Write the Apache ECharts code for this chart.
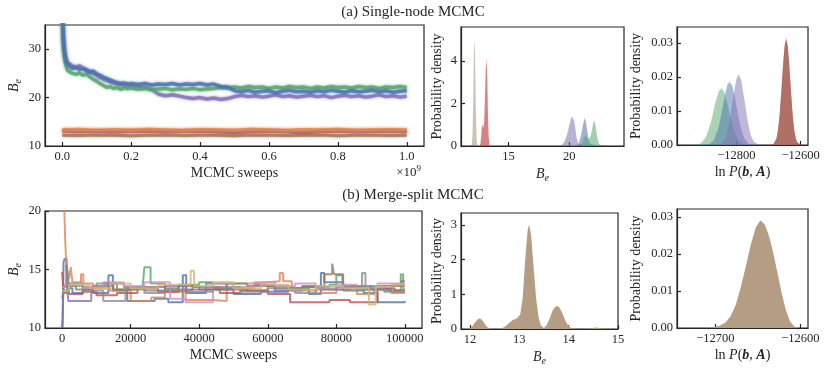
<!DOCTYPE html>
<html>
<head>
<meta charset="utf-8">
<script src="https://cdn.jsdelivr.net/npm/echarts@6/dist/echarts.min.js"></script>
<style>
html, body { margin: 0; padding: 0; background: #fff; }
#chart { width: 831px; height: 373px; }
</style>
</head>
<body>
<div id="chart"></div>
<script>
// ---------- (a) single-node MCMC traces (sweeps in units of 1e9) ----------
var sweepsA = [0, 0.004, 0.008, 0.012, 0.016, 0.02, 0.03, 0.04, 0.05, 0.06, 0.07, 0.08, 0.09, 0.10,
  0.11, 0.12, 0.13, 0.14, 0.15, 0.16, 0.17, 0.18, 0.19, 0.20, 0.22, 0.24, 0.26, 0.28, 0.30,
  0.32, 0.34, 0.36, 0.38, 0.40, 0.42, 0.44, 0.46, 0.48, 0.50, 0.52, 0.54, 0.56, 0.58, 0.60,
  0.62, 0.64, 0.66, 0.68, 0.70, 0.72, 0.74, 0.76, 0.78, 0.80, 0.82, 0.84, 0.86, 0.88, 0.90,
  0.92, 0.94, 0.96, 0.98, 1.00];
var traceBlueA = [38, 31, 28.5, 27.3, 26.8, 26.4, 26.0, 26.3, 25.8, 26.0, 25.6, 25.2, 25.5, 24.9,
  24.6, 24.2, 23.9, 23.6, 23.3, 23.1, 22.9, 23.0, 22.8, 22.9, 22.7, 22.9, 22.6, 22.8, 22.7,
  22.9, 22.6, 22.8, 22.7, 22.9, 22.6, 22.8, 22.3, 22.2, 21.4, 21.2, 21.5, 21.1, 21.3, 21.4,
  21.0, 21.3, 21.5, 21.2, 21.3, 21.1, 21.4, 21.2, 21.5, 21.3, 21.1, 21.4, 21.2, 21.3, 21.5,
  21.2, 21.4, 21.1, 21.3, 21.4];
var traceGreenA = [38, 30, 27.5, 26.3, 25.6, 25.2, 25.0, 24.8, 25.1, 24.6, 24.9, 24.3, 23.8, 23.4,
  22.9, 22.5, 22.1, 22.3, 21.9, 22.1, 21.7, 22.0, 21.8, 22.0, 21.7, 21.9, 21.6, 21.8, 21.9,
  21.6, 21.8, 21.7, 21.9, 21.6, 21.8, 21.9, 22.1, 22.0, 22.2, 22.0, 22.3, 22.1, 22.2, 21.9,
  22.2, 22.0, 22.3, 22.1, 22.2, 21.9, 22.2, 22.0, 22.3, 22.1, 22.2, 22.0, 22.3, 22.1, 22.2,
  21.9, 22.2, 22.1, 22.3, 22.1];
var tracePurpleA = [38, 32, 29, 27.8, 27.2, 26.8, 26.5, 26.2, 26.6, 26.1, 25.8, 25.4, 25.0, 24.6,
  24.1, 23.8, 23.5, 23.2, 23.0, 22.8, 22.7, 22.5, 22.6, 22.4, 22.3, 22.1, 21.7, 20.7, 20.4,
  20.6, 20.3, 20.0, 19.8, 20.0, 19.7, 19.9, 19.6, 19.8, 20.2, 20.5, 20.2, 20.4, 20.1, 20.3,
  20.6, 20.2, 20.4, 20.1, 20.3, 20.5, 20.2, 20.4, 20.0, 20.3, 20.5, 20.2, 20.4, 20.1, 20.3,
  20.6, 20.2, 20.4, 20.1, 20.3];
var sweepsFlatA = [0, 0.05, 0.10, 0.15, 0.20, 0.25, 0.30, 0.35, 0.40, 0.45, 0.50,
  0.55, 0.60, 0.65, 0.70, 0.75, 0.80, 0.85, 0.90, 0.95, 1.00];
var traceOrangeA = [13.3, 13.4, 13.2, 13.35, 13.25, 13.4, 13.3, 13.2, 13.35, 13.3, 13.25,
  13.4, 13.3, 13.2, 13.35, 13.3, 13.4, 13.25, 13.3, 13.35, 13.3];
var traceRedA = [13.1, 13.0, 13.1, 12.95, 13.05, 13.1, 13.0, 13.05, 13.1, 13.0, 12.8,
  13.05, 13.1, 13.0, 12.75, 13.05, 13.1, 13.0, 13.05, 13.1, 13.0];
var traceBrownA = [12.2, 12.15, 12.25, 12.2, 12.1, 12.2, 12.25, 12.15, 12.2, 12.2, 12.1,
  12.25, 12.2, 12.15, 12.2, 12.25, 12.1, 12.2, 12.2, 12.15, 12.2];

// ---------- (a) densities of B_e ----------
var beBrownAx = [11.95, 12.0, 12.05, 12.1, 12.15, 12.2, 12.25, 12.3, 12.35, 12.4, 12.45, 12.5];
var beBrownAy = [0, 0.15, 0.6, 1.9, 3.9, 5.05, 4.4, 2.5, 0.9, 0.25, 0.05, 0];
var beRedAx = [12.65, 12.72, 12.8, 12.87, 12.93, 13.0, 13.07, 13.13, 13.2, 13.26, 13.32, 13.38, 13.45, 13.5];
var beRedAy = [0, 0.2, 0.8, 1.04, 0.85, 1.1, 2.3, 3.6, 4.1, 3.2, 1.4, 0.4, 0.05, 0];
var bePurpleAx = [19.2, 19.4, 19.6, 19.8, 19.95, 20.1, 20.2, 20.28, 20.4, 20.5, 20.6, 20.7, 20.85, 21.0, 21.5, 22.0, 22.5, 23.0, 23.2];
var bePurpleAy = [0, 0.05, 0.2, 0.5, 0.85, 1.2, 1.4, 1.44, 1.2, 0.8, 0.4, 0.18, 0.08, 0.05, 0.04, 0.03, 0.03, 0.01, 0];
var beBlueAx = [20.6, 20.75, 20.9, 21.0, 21.1, 21.2, 21.29, 21.38, 21.48, 21.58, 21.7, 21.85, 22.2, 22.6, 23.0, 23.2];
var beBlueAy = [0, 0.1, 0.35, 0.6, 0.9, 1.2, 1.31, 1.1, 0.7, 0.35, 0.12, 0.04, 0.03, 0.03, 0.02, 0];
var beGreenAx = [20.9, 21.05, 21.2, 21.32, 21.45, 21.6, 21.75, 21.88, 21.97, 22.05, 22.15, 22.25, 22.35, 22.45, 22.6, 22.7];
var beGreenAy = [0, 0.12, 0.38, 0.5, 0.42, 0.32, 0.45, 0.8, 1.1, 1.2, 1.0, 0.6, 0.28, 0.1, 0.02, 0];

// ---------- (a) densities of ln P(b, A) ----------
var lnGreenAx = [-12960, -12930, -12910, -12895, -12880, -12865, -12855, -12847, -12838, -12828, -12818, -12808, -12798, -12788, -12775, -12760];
var lnGreenAy = [0, 0.0001, 0.0005, 0.0023, 0.0065, 0.0126, 0.0158, 0.0167, 0.0156, 0.0122, 0.0080, 0.0045, 0.0021, 0.0008, 0.0002, 0];
var lnBlueAx = [-12920, -12885, -12870, -12855, -12845, -12835, -12828, -12821, -12813, -12805, -12795, -12785, -12775, -12762, -12745];
var lnBlueAy = [0, 0.0002, 0.0014, 0.0053, 0.0100, 0.0150, 0.0177, 0.0186, 0.0174, 0.0141, 0.0090, 0.0046, 0.0019, 0.0004, 0];
var lnPurpleAx = [-12870, -12855, -12840, -12830, -12820, -12810, -12800, -12793, -12785, -12775, -12765, -12755, -12745, -12730, -12715];
var lnPurpleAy = [0, 0.0001, 0.0010, 0.0031, 0.0076, 0.0140, 0.0195, 0.0209, 0.0191, 0.0133, 0.0071, 0.0028, 0.0009, 0.0001, 0];
var lnRedAx = [-12695, -12685, -12680, -12675, -12670, -12665, -12660, -12655, -12650, -12645, -12640, -12635, -12630, -12625, -12620, -12615, -12610, -12605, -12598];
var lnRedAy = [0, 0.0002, 0.0007, 0.0019, 0.0045, 0.0091, 0.0157, 0.0231, 0.0291, 0.0315, 0.0291, 0.0231, 0.0157, 0.0091, 0.0045, 0.0019, 0.0007, 0.0002, 0];
var lnBrownAy = [0, 0.0002, 0.0008, 0.0021, 0.0048, 0.0095, 0.0160, 0.0230, 0.0286, 0.0308, 0.0287, 0.0228, 0.0155, 0.0089, 0.0044, 0.0018, 0.0007, 0.0002, 0];

// ---------- (b) merge-split traces: [sweep where level starts, B_e] ----------
var chainBlueB = [[0,10],[200,10.5],[400,15.6],[700,15.9],[1300,15.6],[1600,13.4],[3000,13.0],[6000,13.3],[9000,13.0],[13500,14.5],[14800,13.2],[19000,12.3],[27000,12.5],[31000,12.2],[35200,14.5],[36200,13.0],[42000,13.3],[50000,12.9],[58000,13.1],[66000,13.4],[72000,12.9],[75500,14.7],[76500,13.9],[82000,13.2],[88000,13.0],[92000,12.2],[100000,12.3]];
var chainOrangeB = [[0,24],[300,22],[600,20.5],[900,17.5],[1200,15.5],[1500,14.8],[2000,14.2],[2500,15.2],[3000,13.9],[5500,14.6],[6200,13.8],[9000,13.4],[14000,13.2],[20000,12.3],[26000,12.6],[30000,13.1],[36000,12.4],[44000,12.3],[48000,13.8],[55000,13.9],[60000,14.0],[63500,14.7],[64500,14.0],[67000,13.2],[74000,13.0],[80000,13.3],[86000,12.9],[91000,13.4],[96000,13.0],[100000,13.0]];
var chainGreenB = [[0,12.5],[500,13.6],[2000,13.8],[6000,13.5],[10000,13.8],[16000,13.3],[23500,13.6],[24000,15.2],[25800,13.8],[30000,13.4],[34000,13.7],[40000,13.9],[44000,13.4],[48000,13.8],[54000,13.2],[60000,13.6],[66000,13.3],[72000,13.5],[78000,13.7],[80000,14.5],[81800,13.6],[86000,13.3],[90000,13.6],[94000,13.2],[98800,14.6],[99500,13.3],[100000,13.3]];
var chainRedB = [[0,14.8],[400,13.2],[2000,12.9],[6000,13.1],[10000,12.8],[16000,13.0],[22000,13.4],[28000,13.1],[34000,13.6],[40000,13.3],[46000,13.0],[52000,13.2],[60000,12.9],[66500,12.2],[78000,12.4],[84000,12.2],[92000,13.4],[97000,13.2],[100000,13.2]];
var chainPurpleB = [[0,10],[300,13.0],[1500,13.6],[1800,12.3],[8500,13.5],[12000,13.8],[18000,13.5],[24000,13.2],[30000,13.6],[36000,13.3],[42000,13.8],[48000,13.4],[56000,13.7],[62000,13.2],[70000,13.5],[76000,13.3],[84000,13.6],[90000,13.3],[96000,13.7],[99000,14.0],[100000,14.0]];
var chainBrownB = [[0,13.5],[1200,15.4],[1600,13.6],[4000,13.3],[9000,13.6],[15000,13.3],[22000,13.5],[30000,13.2],[38000,13.5],[46000,13.3],[54000,13.6],[62000,13.4],[70000,13.6],[76500,14.6],[78800,15.5],[79300,14.6],[82000,13.5],[88000,13.3],[94000,13.6],[100000,13.6]];
var chainPinkB = [[0,13.5],[1000,13.8],[6000,13.5],[12000,13.9],[18000,13.6],[24000,13.9],[31500,12.5],[36000,12.2],[44000,13.8],[50000,13.5],[56000,13.9],[62000,13.6],[68000,13.8],[74000,13.4],[80000,13.7],[86000,13.4],[92000,13.8],[100000,13.8]];
var chainGrayB = [[0,13.0],[1500,15.0],[2000,13.6],[6000,13.2],[12000,12.3],[18500,13.4],[24000,13.0],[30000,13.3],[36000,13.1],[44000,13.5],[52000,13.1],[60000,13.4],[68000,13.0],[74000,13.3],[80000,13.5],[87500,14.7],[88500,13.4],[94000,13.1],[100000,13.1]];
var chainOliveB = [[0,13.2],[2000,13.7],[8000,13.4],[14000,13.8],[20000,13.4],[28000,13.7],[37500,14.9],[38500,13.6],[44000,13.9],[50000,13.4],[58000,13.7],[66000,13.3],[74000,13.6],[82000,13.4],[89500,12.0],[91500,13.5],[96000,13.7],[100000,13.7]];

// ---------- (b) densities ----------
var beBx = [11.95, 12.0, 12.05, 12.1, 12.15, 12.2, 12.25, 12.3, 12.35, 12.4, 12.45, 12.55, 12.65, 12.72, 12.8, 12.87, 12.95, 13.02, 13.07, 13.12,
  13.17, 13.2, 13.24, 13.29, 13.34, 13.39, 13.44, 13.5, 13.56, 13.62, 13.68, 13.74, 13.8, 13.86, 13.92, 13.98, 14.05, 14.15, 14.35, 14.45,
  14.55, 14.65, 14.75];
var beBy = [0, 0.02, 0.08, 0.18, 0.27, 0.31, 0.26, 0.15, 0.06, 0.02, 0.0, 0.0, 0.02, 0.08, 0.18, 0.26, 0.3, 0.42, 0.9, 2.0,
  2.85, 3.02, 2.7, 1.8, 0.9, 0.35, 0.1, 0.03, 0.12, 0.32, 0.55, 0.66, 0.65, 0.5, 0.28, 0.12, 0.03, 0.0, 0.0, 0.02,
  0.04, 0.02, 0.0];
var lnBx = [-12712, -12702, -12695, -12688, -12682, -12676, -12670, -12664, -12658, -12652, -12647, -12642, -12637, -12632, -12627, -12622, -12617, -12612, -12607, -12601];
var lnBy = [0, 0.0002, 0.0006, 0.0015, 0.0032, 0.0062, 0.0110, 0.0168, 0.0228, 0.0274, 0.0291, 0.0281, 0.0250, 0.0205, 0.0150, 0.0095, 0.0048, 0.0017, 0.0004, 0];

// ---------- tick values ----------
var ticksSweepsA = [0, 0.2, 0.4, 0.6, 0.8, 1.0];
var ticksBeTraceA = [10, 20, 30];
var ticksBeDensA = [15, 20];
var ticksDensA = [0, 2, 4];
var ticksLnA = [-12800, -12600];
var ticksLnDens = [0, 0.01, 0.02, 0.03];
var ticksSweepsB = [0, 20000, 40000, 60000, 80000, 100000];
var ticksBeTraceB = [10, 15, 20];
var ticksBeDensB = [12, 13, 14, 15];
var ticksDensB = [0, 1, 2, 3];
var ticksLnB = [-12700, -12600];

var FONT = '"Liberation Serif", "DejaVu Serif", serif';
var INK = '#262626';
var C = {blue:'#4c72b0', orange:'#dd8452', green:'#55a868', red:'#c44e52', purple:'#8172b3',
         brown:'#937860', pink:'#da8bc3', gray:'#8c8c8c', olive:'#ccb974'};

function pairs(xs, ys){
    return xs.map(function(x, i){ return [x, ys[i]]; });
}
function minus(v){
    return v < 0 ? '\u2212' + Math.abs(v) : String(v);
}
var nameStyle = {
    fontFamily: FONT, fontSize: 14, color: INK,
    rich: {
        i: {fontFamily: FONT, fontSize: 14, fontStyle: 'italic', color: INK},
        s: {fontFamily: FONT, fontSize: 10, fontStyle: 'italic', color: INK, verticalAlign: 'bottom', lineHeight: 18},
        bi: {fontFamily: FONT, fontSize: 14, fontStyle: 'italic', fontWeight: 'bold', color: INK}
    }
};
var BE = '{i|B}{s|e}';
var LNP = 'ln {i|P}(' + '{bi|b}, {bi|A})';

function axis(grid, min, max, ticks, fmt, name, gap){
    return {
        type: 'value', gridIndex: grid, min: min, max: max,
        name: name, nameLocation: 'middle', nameGap: gap, nameTextStyle: nameStyle,
        axisLine: {show: true, onZero: false, lineStyle: {color: INK, width: 1.2}},
        axisTick: {show: true, inside: true, length: 4, customValues: ticks, lineStyle: {color: INK, width: 1.2}},
        axisLabel: {customValues: ticks, formatter: fmt, margin: 4, color: INK, fontFamily: FONT, fontSize: 12.5},
        splitLine: {show: false}
    };
}
// noisy MCMC band: thick line with a soft halo
function trace(ax, xs, ys, color, width){
    return {
        type: 'line', xAxisIndex: ax, yAxisIndex: ax, data: pairs(xs, ys),
        symbol: 'none', silent: true,
        lineStyle: {color: color, width: width, opacity: 0.78, shadowBlur: 3, shadowColor: color}
    };
}
function steps(ax, data, color){
    return {
        type: 'line', xAxisIndex: ax, yAxisIndex: ax, data: data, step: 'end',
        symbol: 'none', silent: true,
        lineStyle: {color: color, width: 2, opacity: 0.8}
    };
}
function dens(ax, xs, ys, color, alpha){
    return {
        type: 'line', xAxisIndex: ax, yAxisIndex: ax, data: pairs(xs, ys),
        symbol: 'none', silent: true,
        lineStyle: {width: 0},
        areaStyle: {color: color, opacity: alpha}
    };
}

var gridStyle = {show: true, borderColor: INK, borderWidth: 1.2, backgroundColor: 'transparent'};
function g(l, t, w, h){
    return Object.assign({left: l, top: t, width: w, height: h}, gridStyle);
}

var fix1 = function(v){ return v.toFixed(1); };
var fix2 = function(v){ return v.toFixed(2); };
var plain = function(v){ return String(v); };

var option = {
    animation: false,
    backgroundColor: '#fff',
    grid: [
        g(45, 25, 379, 121),
        g(461, 27, 163, 119),
        g(677, 27, 131, 118),
        g(45, 211, 377, 117),
        g(461, 213, 157, 116),
        g(677, 209, 131, 119)
    ],
    xAxis: [
        axis(0, -0.05, 1.05, ticksSweepsA, fix1, 'MCMC sweeps', 20),
        axis(1, 11.1, 24.5, ticksBeDensA, plain, BE, 19),
        axis(2, -12985, -12577, ticksLnA, minus, LNP, 20),
        axis(3, -5000, 105000, ticksSweepsB, plain, 'MCMC sweeps', 20),
        axis(4, 11.82, 15, ticksBeDensB, plain, BE, 19),
        axis(5, -12745, -12591, ticksLnB, minus, LNP, 20)
    ],
    yAxis: [
        axis(0, 10, 35, ticksBeTraceA, plain, BE, 22),
        axis(1, 0, 5.6, ticksDensA, plain, 'Probability density', 17),
        axis(2, 0, 0.0347, ticksLnDens, fix2, 'Probability density', 34),
        axis(3, 10, 20, ticksBeTraceB, plain, BE, 22),
        axis(4, 0, 3.35, ticksDensB, plain, 'Probability density', 17),
        axis(5, 0, 0.0322, ticksLnDens, fix2, 'Probability density', 34)
    ],
    graphic: [
        {type: 'text', x: 413, y: 12, style: {text: '(a) Single-node MCMC', fontFamily: FONT, fontSize: 15, fill: INK, align: 'center', verticalAlign: 'middle'}},
        {type: 'text', x: 413, y: 195, style: {text: '(b) Merge-split MCMC', fontFamily: FONT, fontSize: 15, fill: INK, align: 'center', verticalAlign: 'middle'}},
        {type: 'text', x: 421, y: 173, style: {text: '\u00d710{s|9}', fontFamily: FONT, fontSize: 13, fill: INK, align: 'right', verticalAlign: 'middle',
            rich: {s: {fontFamily: FONT, fontSize: 9, fill: INK, verticalAlign: 'top', lineHeight: 18}}}}
    ],
    series: [
        trace(0, sweepsA, tracePurpleA, C.purple, 3.5),
        trace(0, sweepsFlatA, traceRedA, C.red, 3.5),
        trace(0, sweepsFlatA, traceOrangeA, C.orange, 3.5),
        trace(0, sweepsA, traceGreenA, C.green, 3.5),
        trace(0, sweepsA, traceBlueA, C.blue, 3.5),
        trace(0, sweepsFlatA, traceBrownA, C.brown, 3),

        dens(1, beBrownAx, beBrownAy, C.brown, 0.45),
        dens(1, beRedAx, beRedAy, C.red, 0.7),
        dens(1, bePurpleAx, bePurpleAy, C.purple, 0.55),
        dens(1, beBlueAx, beBlueAy, C.blue, 0.55),
        dens(1, beGreenAx, beGreenAy, C.green, 0.55),

        dens(2, lnGreenAx, lnGreenAy, C.green, 0.5),
        dens(2, lnBlueAx, lnBlueAy, C.blue, 0.5),
        dens(2, lnPurpleAx, lnPurpleAy, C.purple, 0.5),
        dens(2, lnRedAx, lnRedAy, C.red, 0.85),
        dens(2, lnRedAx, lnBrownAy, C.brown, 0.5),

        steps(3, chainBlueB, C.blue),
        steps(3, chainOrangeB, C.orange),
        steps(3, chainGreenB, C.green),
        steps(3, chainRedB, C.red),
        steps(3, chainPurpleB, C.purple),
        steps(3, chainBrownB, C.brown),
        steps(3, chainPinkB, C.pink),
        steps(3, chainGrayB, C.gray),
        steps(3, chainOliveB, C.olive),

        dens(4, beBx, beBy, '#b49d82', 1),
        dens(5, lnBx, lnBy, '#b49d82', 1)
    ]
};

var myChart = echarts.init(document.getElementById('chart'));
myChart.setOption(option);
</script>
</body>
</html>
